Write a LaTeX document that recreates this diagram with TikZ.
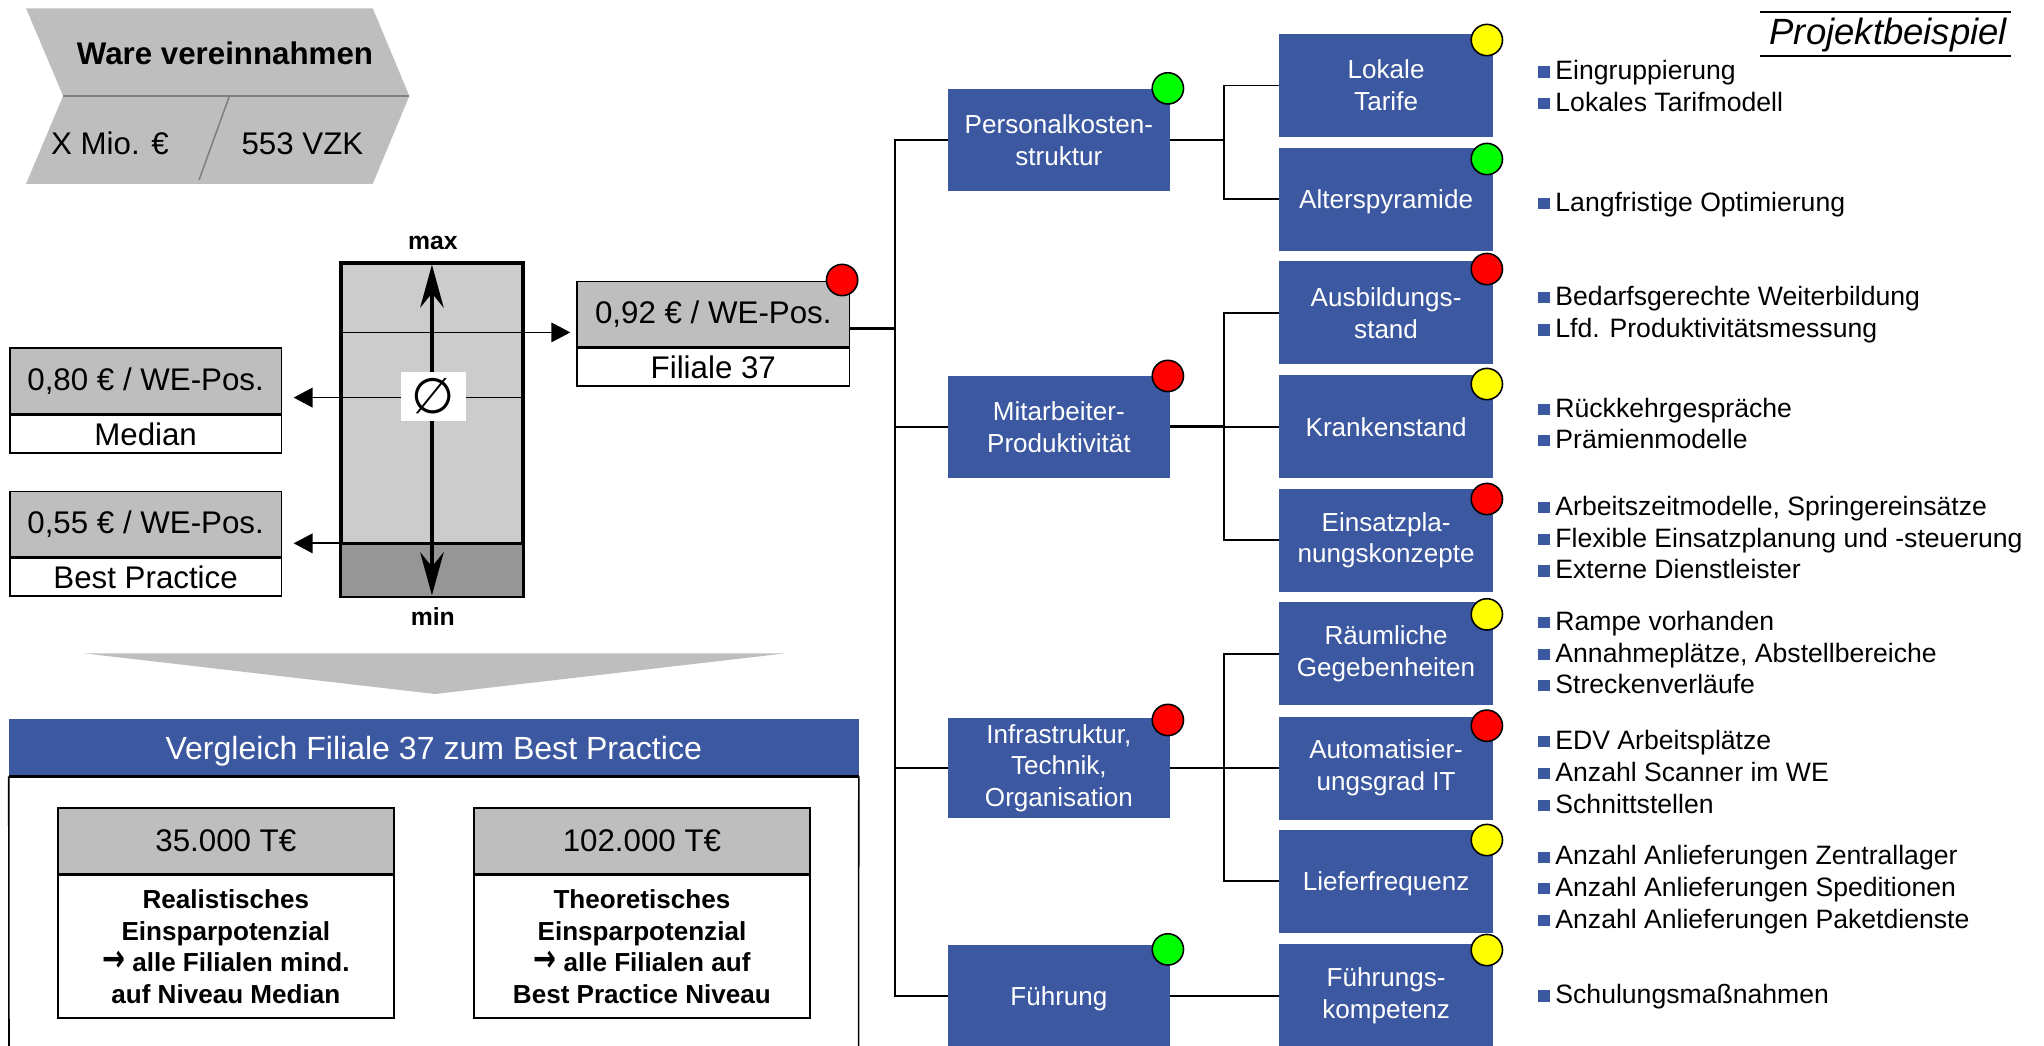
\documentclass[tikz,border=0pt]{standalone}
\usepackage{graphicx}
\usepackage{fontspec}
\setmainfont{Liberation Sans}
\newfontfamily\symfont{DejaVu Sans}
\usetikzlibrary{arrows.meta,calc}

\definecolor{boxblue}{RGB}{60,88,160}
\definecolor{chevgray}{RGB}{190,190,190}
\definecolor{chevline}{RGB}{128,128,128}
\definecolor{gaugelight}{RGB}{204,204,204}
\definecolor{gaugedark}{RGB}{150,150,150}
\definecolor{lampgreen}{RGB}{0,255,0}
\definecolor{lampred}{RGB}{255,0,0}
\definecolor{lampyellow}{RGB}{255,255,0}

\newcommand\sizeNode{\fontsize{20}{24.3}\selectfont}
\newcommand\sizeList{\fontsize{20.4}{24.3}\selectfont}
\newcommand\sizeMain{\fontsize{24}{28.8}\selectfont}
\newcommand\sizeHead{\fontsize{24.6}{28.8}\selectfont}
\newcommand\sizeTitle{\fontsize{28}{33}\selectfont}
\newcommand\sizeTick{\fontsize{19}{22}\selectfont}
\newcommand\bulletsq{{\color{boxblue}\rule[1.8pt]{8.5pt}{8.5pt}}}
\newcommand\thenarrow{{\symfont\bfseries\scalebox{1.05}[1.45]{→}}}

\tikzset{
  lvlone/.style={rectangle, fill=boxblue, text=white, minimum width=170.2pt,
    minimum height=78pt, align=center, inner sep=0pt, font=\sizeNode},
  lvltwo/.style={rectangle, fill=boxblue, text=white, minimum width=163.8pt,
    minimum height=79pt, align=center, inner sep=0pt, font=\sizeNode},
  oneline/.style={text height=14.6pt, text depth=0pt},
  lamp/.style={circle, draw=black, line width=1.2pt, minimum size=24pt, inner sep=0pt},
  valtop/.style={rectangle, draw=black, line width=1.2pt, fill=chevgray,
    minimum width=#1, minimum height=50pt, inner sep=0pt, font=\sizeMain},
  valbot/.style={rectangle, draw=black, line width=1.2pt, fill=white,
    minimum width=#1, minimum height=29pt, inner sep=0pt, font=\sizeMain},
  link/.style={draw=black, line width=1.5pt},
  linkbold/.style={draw=black, line width=2.4pt},
  pointer/.style={line width=1.3pt, -{Triangle[length=14.5pt,width=15pt]}},
  item/.style={anchor=base west, inner sep=0pt, font=\sizeList},
}

\begin{document}
\begin{tikzpicture}[x=1pt,y=-1pt]
\useasboundingbox (0,0) rectangle (1568,802);

% ---------- process chevron ----------
\fill[chevgray] (20,6.4) -- (286,6.4) -- (314,73.6) -- (286,141) -- (20,141) -- (48.4,73.6) -- cycle;
\draw[chevline, line width=1.2pt] (48.4,73.6) -- (314,73.6);
\draw[chevline, line width=1.2pt] (176,73.6) -- (152.7,138);
\node[font=\bfseries\sizeMain] (ware) at (172.6,41) {Ware vereinnahmen};
\node[font=\sizeMain] (mio) at (84.3,110) {X Mio. €};
\node[font=\sizeMain] (vzk) at (232,110) {553 VZK};

% ---------- value gauge ----------
\node[draw=black, line width=2pt, fill=gaugelight, minimum width=138.7pt,
  minimum height=254.5pt, inner sep=0pt] (gauge) at (331.35,329.75) {};
\fill[gaugedark] (262,416.8) rectangle (400.7,457);
\draw[line width=2pt] (gauge.south west) rectangle (gauge.north east);
\draw[line width=2pt] (262,416.8) -- (400.7,416.8);

\node[font=\bfseries\sizeTick] (mx) at (332,186) {max};
\node[font=\bfseries\sizeTick] (mn) at (332,472.6) {min};

% value boxes
\node[valtop=209pt] (f37a) at (547.2,241) {0,92 € / WE-Pos.};
\node[valbot=209pt, minimum height=28.8pt, anchor=north] (f37b) at (f37a.south) {Filiale 37};
\node[valtop=208.3pt] (mda) at (111.7,292.1) {0,80 € / WE-Pos.};
\node[valbot=208.3pt, anchor=north] (mdb) at (mda.south) {Median};
\node[valtop=208.3pt] (bpa) at (111.7,402.1) {0,55 € / WE-Pos.};
\node[valbot=208.3pt, anchor=north] (bpb) at (bpa.south) {Best Practice};

\coordinate (hi) at (0,255);
\coordinate (av) at (0,305);
\coordinate (lo) at (0,416.8);
\draw[pointer, shorten >=4.6pt] (gauge.west |- hi) -- (f37a.west |- hi);
\draw[pointer, shorten >=8.8pt] (gauge.east |- av) -- (mda.east |- av);
\draw[pointer, shorten >=8.8pt] (gauge.east |- lo) -- (bpa.east |- lo);

\draw[line width=3pt, {Stealth[length=33pt,width=18pt,inset=11pt]}-{Stealth[length=33pt,width=18pt,inset=11pt]}]
  ([yshift=-1.5pt]gauge.north) -- ([yshift=1.3pt]gauge.south);
\node[fill=white, minimum width=50pt, minimum height=37.7pt, inner sep=0pt,
  font=\symfont\fontsize{38}{38}\selectfont] (avg) at (332.5,303.9) {∅};

\node[lamp, fill=lampred] (f37l) at (646,214.8) {};

% ---------- savings panel ----------
\fill[chevgray] (64.6,501.2) -- (602.6,501.2) -- (333.6,532.4) -- cycle;
\node[fill=boxblue, text=white, minimum width=651.7pt, minimum height=43.5pt,
  inner sep=0pt, text height=17.6pt, text depth=0pt, font=\sizeHead] (hd) at (332.75,573.55)
  {Vergleich Filiale 37 zum Best Practice};
\draw[line width=1.2pt] (hd.south west) -- (6.9,803);
\draw[line width=1.2pt] (hd.south east) -- (658.6,803);
\draw[line width=2pt] (hd.south west) -- (hd.south east);

\node[valtop=257.9pt] (sva) at (173.25,645) {35.000 T€};
\node[valbot=257.9pt, minimum height=109.9pt, anchor=north, align=center,
  font=\bfseries\sizeNode] (svb) at (sva.south)
  {Realistisches\\Einsparpotenzial\\\thenarrow{} alle Filialen mind.\\auf Niveau Median};
\node[valtop=257.5pt] (swa) at (492.45,645) {102.000 T€};
\node[valbot=257.5pt, minimum height=109.9pt, anchor=north, align=center,
  font=\bfseries\sizeNode] (swb) at (swa.south)
  {Theoretisches\\Einsparpotenzial\\\thenarrow{} alle Filialen auf\\Best Practice Niveau};

% ---------- driver tree ----------
\node[lvlone] (pk) at (812.3,107.3) {Personalkosten-\\struktur};
\node[lvlone] (mp) at (812.3,327.5) {Mitarbeiter-\\Produktivität};
\node[lvlone, minimum height=76.7pt] (it) at (812.3,589.2) {Infrastruktur,\\Technik,\\Organisation};
\node[lvlone, oneline, minimum height=77.5pt] (fu) at (812.3,764) {Führung};

\node[lvltwo] (lt) at (1063.3,65.6) {Lokale\\Tarife};
\node[lvltwo, oneline] (ap) at (1063.3,152.8) {Alterspyramide};
\node[lvltwo] (ab) at (1063.3,240) {Ausbildungs-\\stand};
\node[lvltwo, oneline] (ks) at (1063.3,327.5) {Krankenstand};
\node[lvltwo] (ep) at (1063.3,414.4) {Einsatzpla-\\nungskonzepte};
\node[lvltwo] (rg) at (1063.3,501.6) {Räumliche\\Gegebenheiten};
\node[lvltwo] (ag) at (1063.3,589.2) {Automatisier-\\ungsgrad IT};
\node[lvltwo, oneline] (lf) at (1063.3,676) {Lieferfrequenz};
\node[lvltwo, minimum height=79pt] (fk) at (1063.3,764) {Führungs-\\kompetenz};

\coordinate (tr) at (686.6,0);
\coordinate (sb) at (939,0);
\coordinate (fj) at (651.7,252);

\draw[linkbold] (fj) -- (fj -| tr);
\draw[link] (pk.west) -- (pk.west -| tr) |- (fu.west);
\draw[link] (mp.west) -- (mp.west -| tr);
\draw[link] (it.west) -- (it.west -| tr);

\draw[link] (pk.east) -- (pk.east -| sb);
\draw[link] (lt.west) -- (lt.west -| sb) |- (ap.west);
\draw[linkbold] (mp.east) -- (mp.east -| sb);
\draw[link] (mp.east -| sb) -- (ks.west);
\draw[link] (ab.west) -- (ab.west -| sb) |- (ep.west);
\draw[link] (it.east) -- (ag.west);
\draw[link] (rg.west) -- (rg.west -| sb) |- (lf.west);
\draw[link] (fu.east) -- (fk.west);

% status lamps
\node[lamp, fill=lampgreen]  (pkl) at (895.9,67.8) {};
\node[lamp, fill=lampred]    (mpl) at (895.9,288.4) {};
\node[lamp, fill=lampred]    (itl) at (895.9,552.3) {};
\node[lamp, fill=lampgreen]  (ful) at (895.9,728.3) {};
\node[lamp, fill=lampyellow] (ltl) at (1140.6,30.7) {};
\node[lamp, fill=lampgreen]  (apl) at (1140.6,122) {};
\node[lamp, fill=lampred]    (abl) at (1140.6,206.4) {};
\node[lamp, fill=lampyellow] (ksl) at (1140.6,294.6) {};
\node[lamp, fill=lampred]    (epl) at (1140.6,382.8) {};
\node[lamp, fill=lampyellow] (rgl) at (1140.6,471.3) {};
\node[lamp, fill=lampred]    (agl) at (1140.6,556.7) {};
\node[lamp, fill=lampyellow] (lfl) at (1140.6,644.4) {};
\node[lamp, fill=lampyellow] (fkl) at (1140.6,728.8) {};

% ---------- measures ----------
\foreach \yy/\txt [count=\k] in {
  54.5/Eingruppierung,
  78.8/Lokales Tarifmodell,
  155.2/Langfristige Optimierung,
  227.6/Bedarfsgerechte Weiterbildung,
  252.4/Lfd. Produktivitätsmessung,
  313.2/Rückkehrgespräche,
  337.5/Prämienmodelle,
  388.7/{Arbeitszeitmodelle, Springereinsätze},
  413/Flexible Einsatzplanung und -steuerung,
  437.3/Externe Dienstleister,
  476.9/Rampe vorhanden,
  501.2/{Annahmeplätze, Abstellbereiche},
  525/Streckenverläufe,
  568.2/EDV Arbeitsplätze,
  592.5/Anzahl Scanner im WE,
  617/Schnittstellen,
  656.7/Anzahl Anlieferungen Zentrallager,
  681/Anzahl Anlieferungen Speditionen,
  705.2/Anzahl Anlieferungen Paketdienste,
  763.3/Schulungsmaßnahmen}
  \node[item] (li\k) at (1180,\yy+6.8) {\bulletsq\hspace{4.5pt}\txt};

% ---------- title ----------
\node[font=\itshape\sizeTitle] (pb) at (1448.5,26.8) {Projektbeispiel};
\draw[line width=1.5pt] (1350,9.5) -- (1542.4,9.5);
\draw[line width=1.5pt] (1350,43) -- (1542.4,43);
\end{tikzpicture}
\end{document}
